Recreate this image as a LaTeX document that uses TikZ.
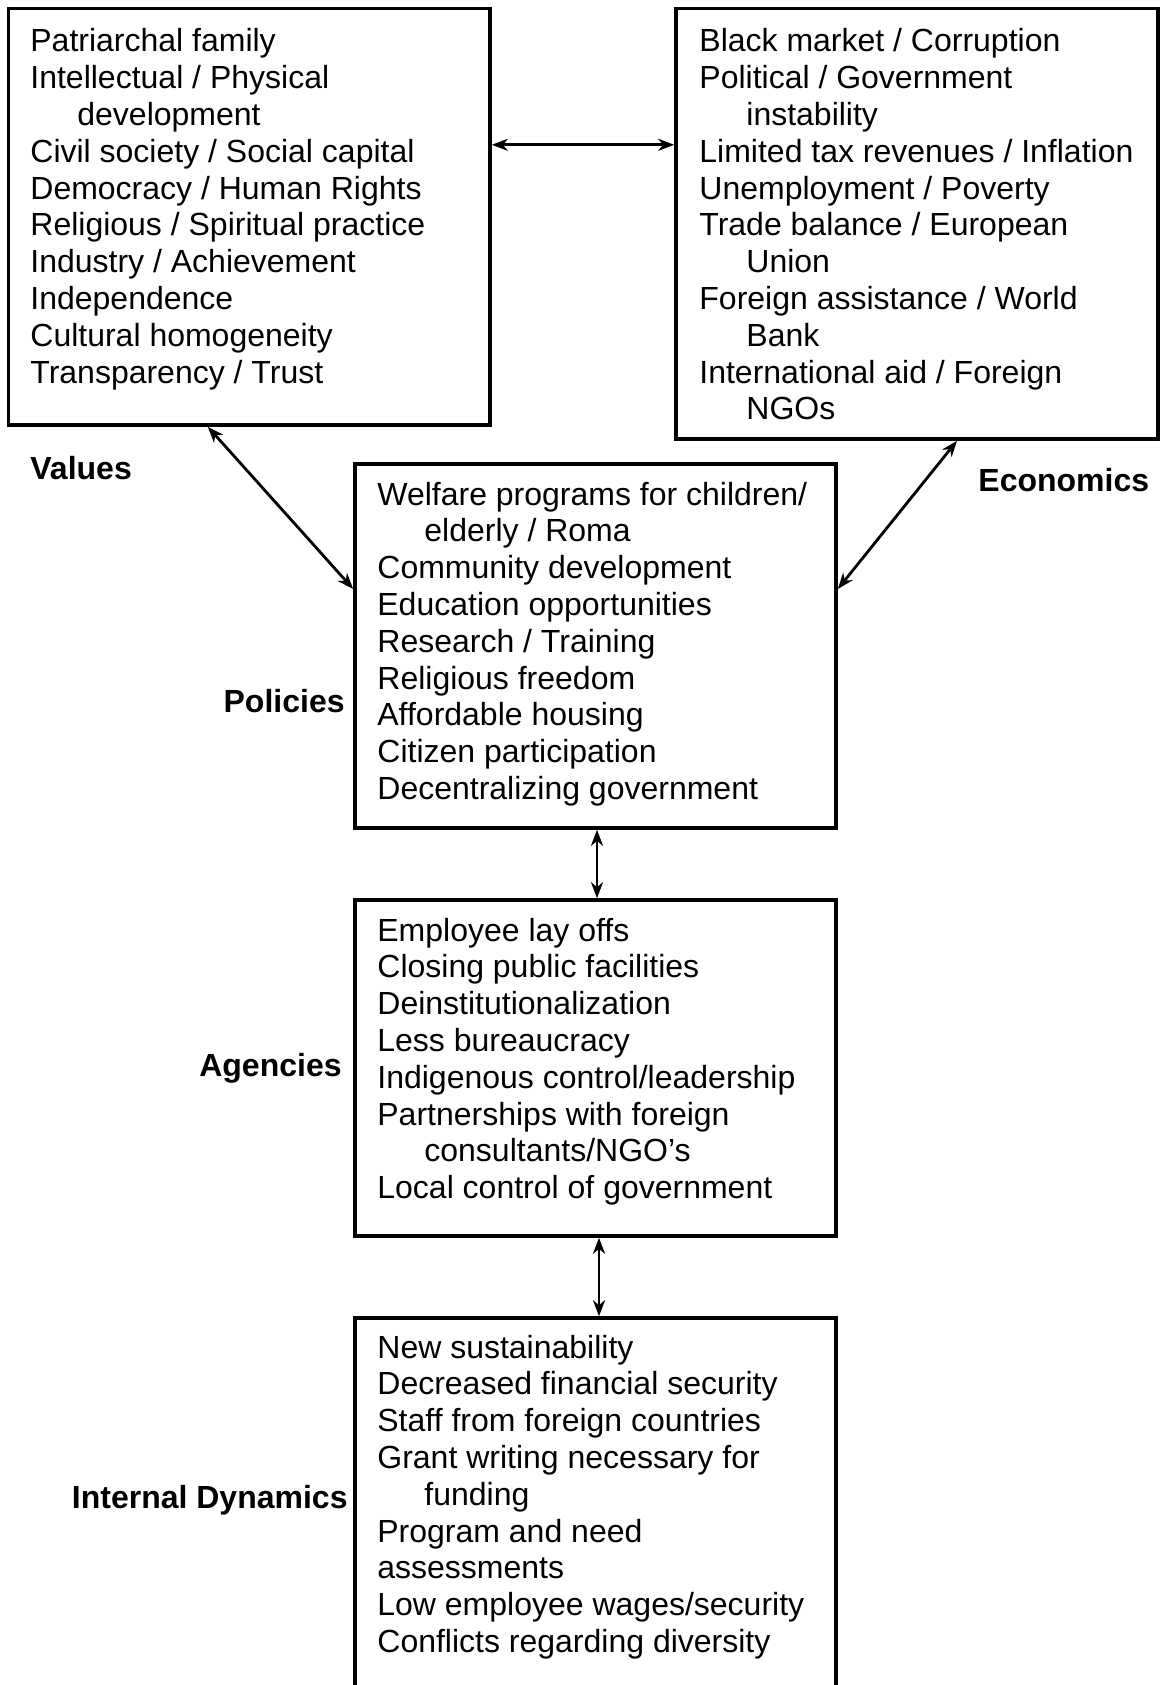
\documentclass[tikz,border=0pt]{standalone}
\usepackage{fontspec}
\setmainfont{Liberation Sans}
\usetikzlibrary{arrows.meta,calc}
\begin{document}
\begin{tikzpicture}[x=0.5pt,y=-0.5pt,
  boxframe/.style={draw, line width=1.8pt, inner sep=0pt, rectangle},
  boxtext/.style={inner sep=0pt, anchor=base west,
     font=\fontsize{16pt}{18.4pt}\selectfont},
  sidelabel/.style={inner sep=0pt, font=\fontsize{16pt}{18.4pt}\selectfont\bfseries},
  link/.style={line width=1.4pt, {Stealth[length=8pt,width=6pt,inset=2.5pt]}-{Stealth[length=8pt,width=6pt,inset=2.5pt]}}
]
\useasboundingbox (0,0) rectangle (1160,1685);
\fill[white] (0,0) rectangle (1160,1685);
\clip (0,0) rectangle (1160,1685);
\newcommand{\ind}{\hspace*{23.5pt}}
\newcommand{\boxlines}[1]{\begin{tabular}[t]{@{}l@{}}#1\end{tabular}}

% boxes
\node[boxframe, minimum width=240.7pt, minimum height=208.2pt] (values) at (249.3,216.8) {};
\node[boxframe, minimum width=241pt, minimum height=215.2pt] (econ) at (917,223.8) {};
\node[boxframe, minimum width=240.5pt, minimum height=182pt] (policies) at (595.5,646) {};
\node[boxframe, minimum width=240.5pt, minimum height=168pt] (agencies) at (595.5,1068) {};
\node[boxframe, minimum width=240.5pt, minimum height=221pt] (internal) at (595.5,1539) {};

% texts
\node[boxtext] (valuestext) at (30,52) {\boxlines{Patriarchal family\\Intellectual / Physical\\\ind development\\Civil society / Social capital\\Democracy / Human Rights\\Religious / Spiritual practice\\Industry / Achievement\\Independence\\Cultural homogeneity\\Transparency / Trust}};
\node[boxtext] (econtext) at (699,52) {\boxlines{Black market / Corruption\\Political / Government\\\ind instability\\Limited tax revenues / Inflation\\Unemployment / Poverty\\Trade balance / European\\\ind Union\\Foreign assistance / World\\\ind Bank\\International aid / Foreign\\\ind NGOs}};
\node[boxtext] (policiestext) at (377,505) {\boxlines{Welfare programs for children/\\\ind elderly / Roma\\Community development\\Education opportunities\\Research / Training\\Religious freedom\\Affordable housing\\Citizen participation\\Decentralizing government}};
\node[boxtext] (agenciestext) at (377,941) {\boxlines{Employee lay offs\\Closing public facilities\\Deinstitutionalization\\Less bureaucracy\\Indigenous control/leadership\\Partnerships with foreign\\\ind consultants/NGO’s\\Local control of government}};
\node[boxtext] (internaltext) at (377,1358) {\boxlines{New sustainability\\Decreased financial security\\Staff from foreign countries\\Grant writing necessary for\\\ind funding\\Program and need\\assessments\\Low employee wages/security\\Conflicts regarding diversity}};

% side labels
\node[sidelabel, anchor=base west] (valueslabel) at (30,479) {Values};
\node[sidelabel, anchor=base west] (econlabel) at (978,491) {Economics};
\node[sidelabel, anchor=base east] (policieslabel) at (345,712) {Policies};
\node[sidelabel, anchor=base east] (agencieslabel) at (342,1076) {Agencies};
\node[sidelabel, anchor=base east] (internallabel) at (348,1508) {Internal Dynamics};

% connectors
\draw[link] ([yshift=36pt]values.east) -- ([yshift=39.5pt]econ.west);
\draw[link] ([xshift=-20.75pt]values.south) -- ([yshift=28.5pt]policies.west);
\draw[link] ([xshift=20pt]econ.south) -- ([yshift=28.5pt]policies.east);
\draw[link] ([xshift=0.75pt]policies.south) -- ([xshift=0.75pt]agencies.north);
\draw[link] ([xshift=1.75pt]agencies.south) -- ([xshift=1.75pt]internal.north);
\end{tikzpicture}
\end{document}
